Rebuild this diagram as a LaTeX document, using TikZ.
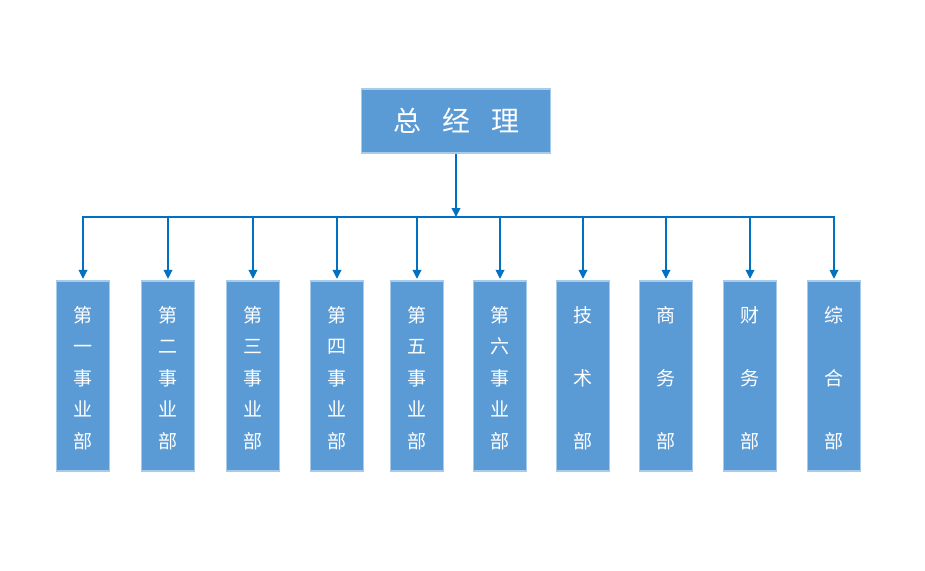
\documentclass[tikz,border=0pt]{standalone}
\usepackage{fontspec}
\setmainfont{Noto Sans CJK SC}
\usetikzlibrary{arrows.meta}
\definecolor{boxfill}{HTML}{5B9BD5}
\definecolor{boxedge}{HTML}{A9CBEA}
\definecolor{linec}{HTML}{0070C0}
\begin{document}
\begin{tikzpicture}[x=1pt,y=-1pt,
  topbox/.style={fill=boxfill,draw=boxedge,line width=1.2pt,minimum width=189pt,minimum height=64pt,inner sep=0pt,text=white,font=\fontsize{28}{30}\selectfont},
  deptbox/.style={fill=boxfill,draw=boxedge,line width=1.2pt,minimum width=53pt,minimum height=190pt,inner sep=0pt},
  depttext/.style={inner sep=0pt,text=white,align=center},
  five/.style={font=\fontsize{19}{31.5}\selectfont},
  three/.style={font=\fontsize{19}{63}\selectfont},
  conn/.style={draw=linec,line width=2pt},
  arr/.style={conn,-{Triangle[length=9pt,width=8.5pt]}}
]
\useasboundingbox (0,0) rectangle (925,570);
\node[topbox] (gm) at (456,121) {总\hspace{0.75em}经\hspace{0.75em}理};
\coordinate (busy) at (0,217);
\foreach \n/\x in {1/83,2/168,3/253,4/337,5/417,6/500,7/583,8/666,9/750,10/834}{
  \node[deptbox] (b\n) at (\x,376) {};
}
\node[depttext,five]  (t1)  at ([yshift=-2pt]b1.center) {第\\一\\事\\业\\部};
\node[depttext,five]  (t2)  at ([yshift=-2pt]b2.center) {第\\二\\事\\业\\部};
\node[depttext,five]  (t3)  at ([yshift=-2pt]b3.center) {第\\三\\事\\业\\部};
\node[depttext,five]  (t4)  at ([yshift=-2pt]b4.center) {第\\四\\事\\业\\部};
\node[depttext,five]  (t5)  at ([yshift=-2pt]b5.center) {第\\五\\事\\业\\部};
\node[depttext,five]  (t6)  at ([yshift=-2pt]b6.center) {第\\六\\事\\业\\部};
\node[depttext,three] (t7)  at ([yshift=-2pt]b7.center) {技\\术\\部};
\node[depttext,three] (t8)  at ([yshift=-2pt]b8.center) {商\\务\\部};
\node[depttext,three] (t9)  at ([yshift=-2pt]b9.center) {财\\务\\部};
\node[depttext,three] (t10) at ([yshift=-2pt]b10.center) {综\\合\\部};
\draw[arr] (gm.south) -- (gm.south |- busy);
\draw[conn] ([xshift=-1pt]b1.north |- busy) -- ([xshift=1pt]b10.north |- busy);
\foreach \b in {b1,b2,b3,b4,b5,b6,b7,b8,b9,b10}{
  \draw[arr,shorten >=1.5pt] (\b.north |- busy) -- (\b.north);
}
\end{tikzpicture}
\end{document}
